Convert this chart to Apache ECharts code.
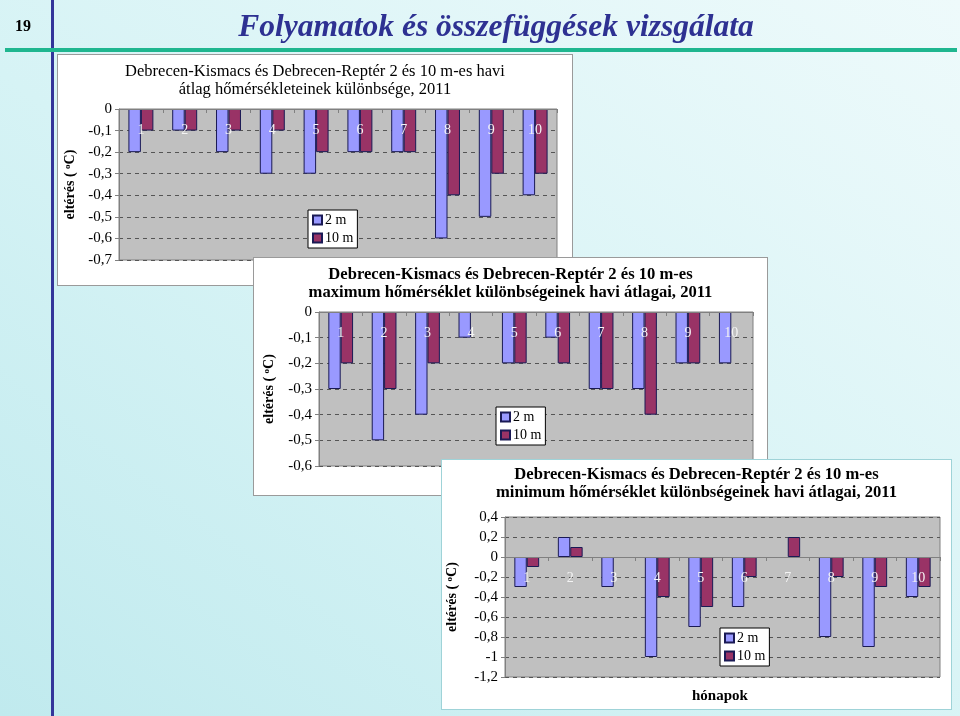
<!DOCTYPE html>
<html><head><meta charset="utf-8">
<script src="https://cdn.jsdelivr.net/npm/echarts@6/dist/echarts.min.js"></script>
<style>
html,body{margin:0;padding:0;width:960px;height:716px;overflow:hidden;}
body{background:linear-gradient(to top right,#c0eaee 0%,#d6f3f5 45%,#eefafb 100%);position:relative;}
.c{position:absolute;background:#fff;box-sizing:border-box;}
</style></head><body>
<div id="bg" style="position:absolute;left:0;top:0;width:960px;height:716px"></div>
<div id="c1" class="c" style="left:57px;top:54px;width:516px;height:232px;border:1px solid #9a9a9a"></div>
<div id="c2" class="c" style="left:253px;top:257px;width:515px;height:239px;border:1px solid #9a9a9a"></div>
<div id="c3" class="c" style="left:441px;top:459px;width:511px;height:251px;border:1px solid #9fd3d8"></div>
<script>
// ---- data ----
const months = ['1','2','3','4','5','6','7','8','9','10'];
const seriesNames = ['2 m','10 m'];
const avg2m  = [-0.2,-0.1,-0.2,-0.3,-0.3,-0.2,-0.2,-0.6,-0.5,-0.4];
const avg10m = [-0.1,-0.1,-0.1,-0.1,-0.2,-0.2,-0.2,-0.4,-0.3,-0.3];
const max2m  = [-0.3,-0.5,-0.4,-0.1,-0.2,-0.1,-0.3,-0.3,-0.2,-0.2];
const max10m = [-0.2,-0.3,-0.2, 0,  -0.2,-0.2,-0.3,-0.4,-0.2, 0];
const min2m  = [-0.3, 0.2,-0.3,-1.0,-0.7,-0.5, 0,  -0.8,-0.9,-0.4];
const min10m = [-0.1, 0.1, 0,  -0.4,-0.5,-0.2, 0.2,-0.2,-0.3,-0.3];
const title1 = 'Debrecen-Kismacs és Debrecen-Reptér 2 és 10 m-es havi\nátlag hőmérsékleteinek különbsége, 2011';
const title2 = 'Debrecen-Kismacs és Debrecen-Reptér 2 és 10 m-es\nmaximum hőmérséklet különbségeinek havi átlagai, 2011';
const title3 = 'Debrecen-Kismacs és Debrecen-Reptér 2 és 10 m-es\nminimum hőmérséklet különbségeinek havi átlagai, 2011';
const pageTitle = 'Folyamatok és összefüggések vizsgálata';
const pageNumber = '19';
const yName = 'eltérés ( {sup|o}C)';
const xName = 'hónapok';

const FONT = '"Liberation Serif","Times New Roman",serif';

// background / header
const bg = echarts.init(document.getElementById('bg'));
bg.setOption({
  graphic: [
    {type:'rect', shape:{x:51,y:0,width:3,height:716}, style:{fill:'#33359a'}},
    {type:'rect', shape:{x:5,y:48,width:952,height:4}, style:{fill:'#1fb68f'}},
    {type:'text', x:23, y:27, style:{text:pageNumber, font:'bold 16px '+FONT, fill:'#000', align:'center', verticalAlign:'middle'}},
    {type:'text', x:496, y:28, style:{text:pageTitle, font:'italic bold 31.5px '+FONT, fill:'#2e3192', align:'center', verticalAlign:'middle'}}
  ]
});

function fmt(v){ const r = Math.round(v*10)/10; return r===0 ? '0' : String(r).replace('.',','); }

// zero-height bars show no outline (as in the reference)
function barData(arr){
  return arr.map(v => v === 0 ? {value:v, itemStyle:{borderWidth:0}} : v);
}

function makeOption(cfg){
  // distance of the zero line from the top of the plot, from the value scale
  const zeroOffset = -cfg.gh * (cfg.max - 0) / (cfg.max - cfg.min);
  const graphic = [];
  if (cfg.xName) {
    graphic.push({type:'text', left:cfg.xNameX, top:cfg.xNameY,
      style:{text:cfg.xName, font:'bold 15px '+FONT, fill:'#000'}});
  }
  return {
    animation:false,
    textStyle:{fontFamily:FONT},
    title:{text:cfg.title, left:'center', top:cfg.titleTop,
      textStyle:{fontFamily:FONT, fontSize:cfg.fs, fontWeight:cfg.bold?'bold':'normal', color:'#000', lineHeight:cfg.lh}},
    legend:{data:seriesNames, orient:'vertical', left:cfg.legLeft, top:cfg.legTop,
      backgroundColor:'#fff', borderColor:'#000', borderWidth:1, padding:[3,4,3,4],
      itemWidth:9, itemHeight:9, itemGap:4, icon:'rect',
      textStyle:{fontFamily:FONT, fontSize:14, color:'#000', padding:[0,0,0,-2]}},
    grid:{left:cfg.gl, top:cfg.gt, width:cfg.gw, height:cfg.gh, show:true,
      backgroundColor:'#c0c0c0', borderColor:'#808080', borderWidth:1,
      outerBoundsMode:'none', containLabel:false},
    graphic: graphic,
    xAxis:{type:'category', data:months, position:'top', offset:zeroOffset, z:5,
      axisLine:{show:true, onZero:false, lineStyle:{color:'#808080'}},
      axisTick:{show:true, inside:true, length:4, lineStyle:{color:'#808080'}},
      axisLabel:{inside:true, margin:14, color:'#f4f4f4', fontSize:14, fontFamily:FONT},
      splitLine:{show:false}},
    yAxis:{type:'value', min:cfg.min, max:cfg.max, interval:cfg.interval,
      name:yName, nameLocation:'middle', nameRotate:90, nameGap:cfg.nameGap,
      nameTextStyle:{fontFamily:FONT, fontSize:14, fontWeight:'bold', color:'#000',
        rich:{sup:{fontFamily:FONT, fontSize:9, fontWeight:'bold', color:'#000', verticalAlign:'top', padding:[0,0,6,0]}}},
      axisLine:{show:true, lineStyle:{color:'#808080'}},
      axisTick:{show:true, length:4, lineStyle:{color:'#808080'}},
      axisLabel:{formatter:fmt, color:'#000', fontSize:15, fontFamily:FONT, margin:7},
      splitLine:{show:true, lineStyle:{color:'#555', type:[4,4], width:1}}},
    series:[
      {name:seriesNames[0], type:'bar', data:barData(cfg.a), barGap:'0%', barCategoryGap:'43%',
        itemStyle:{color:'#9999ff', borderColor:'#1a1a55', borderWidth:1}},
      {name:seriesNames[1], type:'bar', data:barData(cfg.b), barGap:'0%', barCategoryGap:'43%',
        itemStyle:{color:'#993366', borderColor:'#1a1a55', borderWidth:1}}
    ]
  };
}

echarts.init(document.getElementById('c1')).setOption(makeOption({
  title:title1, titleTop:3, bold:false, fs:16.5, lh:18,
  legLeft:250, legTop:155, gl:61, gt:54, gw:438, gh:151,
  min:-0.7, max:0, interval:0.1, nameGap:40, a:avg2m, b:avg10m}));
echarts.init(document.getElementById('c2')).setOption(makeOption({
  title:title2, titleTop:2, bold:true, fs:16.6, lh:18.5,
  legLeft:242, legTop:149, gl:65, gt:54, gw:434, gh:154,
  min:-0.6, max:0, interval:0.1, nameGap:42, a:max2m, b:max10m}));
echarts.init(document.getElementById('c3')).setOption(makeOption({
  title:title3, titleTop:1, bold:true, fs:16.6, lh:18,
  legLeft:278, legTop:168, gl:63, gt:57, gw:435, gh:160,
  min:-1.2, max:0.4, interval:0.2, nameGap:45, a:min2m, b:min10m,
  xName:xName, xNameX:250, xNameY:229}));
</script>
</body></html>
